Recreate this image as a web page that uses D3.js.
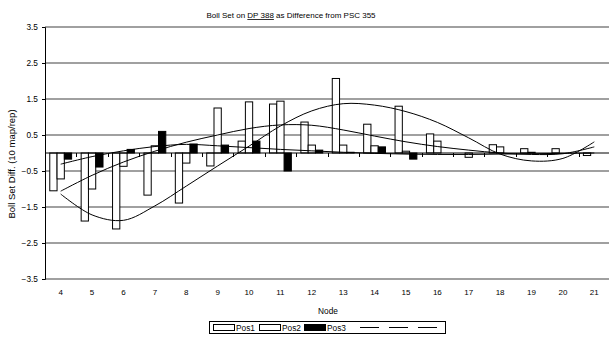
<!DOCTYPE html>
<html><head><meta charset="utf-8">
<script src="https://cdn.jsdelivr.net/npm/d3@7"></script>
<style>body{margin:0;background:#fff}svg{display:block;font-family:"Liberation Sans",Arial,sans-serif}</style>
</head><body><svg id="c" width="609" height="337"></svg>
<script>
const nodes = ["4","5","6","7","8","9","10","11","12","13","14","15","16","17","18","19","20","21"];
const pos1 = [-1.05,-1.89,-2.11,-1.17,-1.39,-0.36,0.33,1.36,0.86,2.07,0.80,1.30,0.53,0.00,0.23,0.12,0.12,-0.07];
const pos2 = [-0.72,-1.00,-0.37,0.20,-0.28,1.25,1.42,1.44,0.22,0.22,0.20,0.05,0.33,-0.12,0.17,0.02,0.00,0.00];
const pos3 = [-0.17,-0.39,0.10,0.60,0.25,0.22,0.33,-0.50,0.08,0.02,0.17,-0.17,0.00,0.00,0.00,0.00,0.00,0.00];
// trendlines
const trend1 = [-1.14,-1.72,-1.87,-1.47,-0.92,-0.36,0.19,0.75,1.17,1.37,1.33,1.15,0.85,0.42,-0.03,-0.22,-0.15,0.31];
const trend2 = [-1.06,-0.62,-0.25,0.05,0.30,0.50,0.68,0.78,0.77,0.64,0.47,0.31,0.18,0.08,0.00,-0.04,-0.02,0.17];
const trend3 = [-0.31,-0.10,0.06,0.18,0.24,0.20,0.15,0.10,0.06,0.02,-0.01,-0.03,-0.04,-0.04,-0.03,-0.02,-0.01,0.00];
const yTicks = [3.5,2.5,1.5,0.5,-0.5,-1.5,-2.5,-3.5];
const seriesNames = ["Pos1","Pos2","Pos3"];

const svg = d3.select("#c");
const x = d3.scaleBand().domain(nodes).range([45,610]).padding(0);
const y = d3.scaleLinear().domain([-3.5,3.5]).range([279,27]);

// title
const title = svg.append("text").attr("x",291).attr("y",18).attr("text-anchor","middle").attr("font-size",8);
title.append("tspan").text("Boll Set on ");
title.append("tspan").attr("text-decoration","underline").text("DP 388");
title.append("tspan").text(" as Difference from PSC 355");

// gridlines
svg.append("g").selectAll("line").data(yTicks).join("line")
  .attr("x1",45).attr("x2",610).attr("y1",d=>y(d)).attr("y2",d=>y(d))
  .attr("stroke","#808080").attr("stroke-width",1.3);

// y axis
const yAxis = svg.append("g").attr("transform","translate(45,0)")
  .call(d3.axisLeft(y).tickValues(yTicks).tickSize(3).tickFormat(d3.format(".1f")));
yAxis.select(".domain").attr("stroke","#000");
yAxis.selectAll("text").attr("font-size",8.3).attr("font-family","Liberation Sans, Arial").attr("fill","#000").attr("x",-7);

svg.append("text").attr("transform","translate(15,164) rotate(-90)").attr("text-anchor","middle")
  .attr("font-size",9.5).text("Boll Set Diff. (10 map/rep)");

// x labels
svg.append("g").selectAll("text").data(nodes).join("text")
  .attr("x",d=>x(d)+x.bandwidth()/2).attr("y",295).attr("text-anchor","middle").attr("font-size",8).text(d=>d);
svg.append("text").attr("x",328).attr("y",314).attr("text-anchor","middle").attr("font-size",8.3).text("Node");

// bars
const bw = x.bandwidth()*0.232;
const series = [pos1,pos2,pos3];
const fills = ["#fff","#fff","#000"];
series.forEach((s,i)=>{
  svg.append("g").selectAll("rect").data(s).join("rect")
    .attr("x",(d,j)=>x(nodes[j])+x.bandwidth()/2+(i-1.5)*bw)
    .attr("width",bw)
    .attr("y",d=>Math.min(y(d),y(0)))
    .attr("height",d=>Math.abs(y(d)-y(0)))
    .attr("fill",fills[i]).attr("stroke","#000").attr("stroke-width",1);
});

// x axis at zero
svg.append("line").attr("x1",45).attr("x2",610).attr("y1",y(0)).attr("y2",y(0)).attr("stroke","#000");
svg.append("g").selectAll("line").data(nodes).join("line")
  .attr("x1",d=>Math.round(x(d))+0.5).attr("x2",d=>Math.round(x(d))+0.5).attr("y1",y(0)).attr("y2",y(0)+4).attr("stroke","#000");

// trendlines
const line = d3.line().x((d,j)=>x(nodes[j])+x.bandwidth()/2).y(d=>y(d)).curve(d3.curveCatmullRom.alpha(0.5));
[trend1,trend2,trend3].forEach(t=>{
  svg.append("path").attr("d",line(t)).attr("fill","none").attr("stroke","#000").attr("stroke-width",1);
});

// legend
const lg = svg.append("g");
lg.append("rect").attr("x",209.5).attr("y",321.5).attr("width",236).attr("height",12).attr("fill","#fff").attr("stroke","#000");
const items = [{x:213,fill:"#fff"},{x:259,fill:"#fff"},{x:304,fill:"#000"}];
items.forEach((it,i)=>{
  lg.append("rect").attr("x",it.x+0.5).attr("y",324.5).attr("width",21).attr("height",6).attr("fill",it.fill).attr("stroke","#000");
  lg.append("text").attr("x",it.x+23).attr("y",331).attr("font-size",8.3).text(seriesNames[i]);
});
[360,389,418].forEach(lx=>{
  lg.append("line").attr("x1",lx).attr("x2",lx+19).attr("y1",327.5).attr("y2",327.5).attr("stroke","#000");
});
</script></body></html>
